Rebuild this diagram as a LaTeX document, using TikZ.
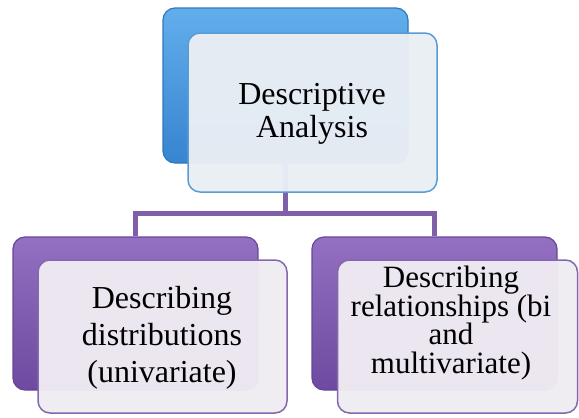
\documentclass[tikz,border=0pt]{standalone}
\usepackage{fontspec}
\setmainfont{Liberation Serif}
\definecolor{bluetop}{HTML}{62AEEC}
\definecolor{bluebot}{HTML}{3784D0}
\definecolor{blueedge}{HTML}{2F78BE}
\definecolor{bluefill}{HTML}{E9EEF4}
\definecolor{bluefront}{HTML}{5B9BD5}
\definecolor{purtop}{HTML}{9470C2}
\definecolor{purbot}{HTML}{6E4AA0}
\definecolor{puredge}{HTML}{66459A}
\definecolor{purfill}{HTML}{EFEBF2}
\definecolor{purfront}{HTML}{8368AE}
\definecolor{linkcol}{HTML}{7E5FA8}
\begin{document}
\begin{tikzpicture}[x=1pt,y=-1pt,
  backbox/.style={rounded corners=12pt, line width=1.2pt, inner sep=0pt},
  bluebackbox/.style={backbox, draw=blueedge, top color=bluetop, bottom color=bluebot},
  purbackbox/.style={backbox, draw=puredge, top color=purtop, bottom color=purbot},
  frontbox/.style={rounded corners=12pt, line width=1.5pt, inner sep=0pt, fill opacity=0.97},
  bluefrontbox/.style={frontbox, draw=bluefront, fill=bluefill},
  purfrontbox/.style={frontbox, draw=purfront, fill=purfill},
  label/.style={font=\fontsize{32}{33}\selectfont, align=center, inner sep=0pt},
  link/.style={draw=linkcol, line width=5pt}]
\useasboundingbox (0,0) rectangle (579,418);
% back boxes
\node[bluebackbox, minimum width=245pt, minimum height=155pt] (tb) at (285.5,85.5) {};
\node[purbackbox, minimum width=245pt, minimum height=153pt] (lb) at (135.5,313.5) {};
\node[purbackbox, minimum width=245pt, minimum height=153pt] (rb) at (434.5,313.5) {};
% connectors
\coordinate (mid) at (285.5,213);
\draw[link] (tb.south) -- (mid);
\draw[link] (mid) -| (lb.north);
\draw[link] (mid) -| (rb.north);
% front boxes
\node[bluefrontbox, minimum width=249pt, minimum height=159pt] (tf) at (312.5,112.5) {};
\node[purfrontbox, minimum width=249pt, minimum height=153pt] (lf) at (162.5,336.5) {};
\node[purfrontbox, minimum width=240pt, minimum height=153pt] (rf) at (457.5,336.5) {};
% texts
\node[label] (tt) at (312,114) {Descriptive\\Analysis};
\node[label, font=\fontsize{32}{37}\selectfont] (lt) at (162,338) {Describing\\distributions\\(univariate)};
\node[label, font=\fontsize{31}{28.5}\selectfont] (rt) at (451,323) {Describing\\relationships (bi\\and\\multivariate)};
\end{tikzpicture}
\end{document}
